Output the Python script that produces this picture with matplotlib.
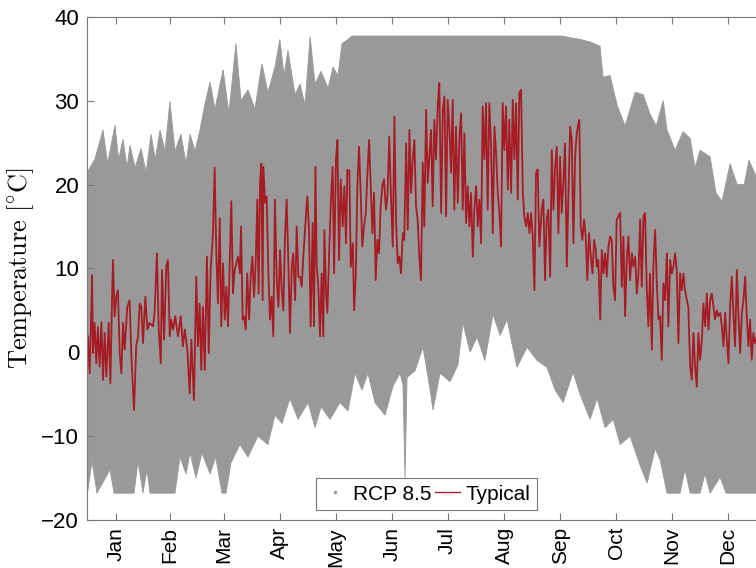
import numpy as np
import matplotlib
matplotlib.use("Agg")
import matplotlib.pyplot as plt
from matplotlib.lines import Line2D

plt.rcParams['font.family'] = ['Liberation Sans', 'DejaVu Sans']
plt.rcParams['mathtext.fontset'] = 'cm'

# month labels, placed at mid-month (day of year)
months = ['Jan', 'Feb', 'Mar', 'Apr', 'May', 'Jun', 'Jul', 'Aug', 'Sep', 'Oct', 'Nov', 'Dec']
month_mid = [15.5, 45, 74.5, 105, 135.5, 166, 196.5, 227.5, 258, 288.5, 319, 349.5]

# RCP 8.5 cloud: upper and lower envelope (day of year, degC)
upper_day = [0, 4, 8.5, 11, 15, 17, 19.4, 21.6, 23.2, 26, 29.2, 32, 34.7, 37, 39.6, 42.3,
             45, 47.8, 51, 53.8, 56, 58.7, 61.4, 64.1, 66.9, 69.6, 74, 77.2, 81, 83.8,
             87.6, 91.4, 95.2, 98.5, 102.3, 105, 107.3, 109.4, 113.3, 116, 118.7, 121.5,
             124.2, 127.5, 131.3, 134, 136.7, 138.9, 141.6, 144.4, 259, 263.4, 268.8,
             274.3, 279.7, 281.4, 285.2, 289, 293.4, 298.9, 303.3, 307, 310.4, 314.2,
             316.3, 320.7, 325, 328.9, 331.6, 334.3, 339.8, 343, 346.3, 350.7, 354.5,
             358.4, 361, 365]
upper_temp = [21.5, 23, 26.5, 22.5, 27.1, 23, 25.4, 22, 24.7, 22, 24.3, 21.5, 26, 23, 26.5, 24,
              29.9, 24, 26, 22.5, 26, 24, 26.5, 29.6, 32.2, 29, 33.7, 28.5, 36.8, 30,
              31.3, 29, 34.4, 31, 34, 37.3, 33, 36, 30.7, 32, 29.5, 37.6,
              32, 33.5, 31.5, 34, 33, 36.8, 37.2, 37.7, 37.7, 37.5, 37.3,
              37, 36.5, 32.8, 33, 29.5, 27, 31, 30.7, 28.4, 27, 30,
              26.5, 24.1, 26.3, 25.5, 22, 24.1, 23.3, 19, 18, 22.5, 20,
              20, 22.9, 20.9]
lower_day = [0, 2.5, 5.2, 12.3, 14.5, 25.4, 27.6, 30.3, 32.5, 34.1, 47.8, 50.5, 53.8, 56,
             59.2, 62.5, 66.9, 70, 73.4, 75.6, 78.3, 83.2, 87.6, 93, 98.5, 102.3, 106.2,
             110.5, 114.9, 120.4, 124.2, 127.5, 132.4, 137.8, 142.2, 146, 149.8, 153.1,
             156.9, 162.4, 166.8, 170.6, 172.2, 173.3, 174.4, 178.8, 183.1, 185.9, 188.6,
             192.4, 197.9, 202.2, 204.9, 208.8, 212.6, 216.9, 221.3, 225.2, 229, 231.7,
             234.4, 239.9, 245.4, 250.8, 255.2, 259.6, 265, 268.8, 274.3, 278.1, 282.5,
             286.9, 290.7, 296.1, 301.6, 305.4, 309.8, 312.5, 316.3, 323.4, 326.1, 328.9,
             334.3, 337, 339.8, 345.2, 348.5, 365]
lower_temp = [-16.8, -13, -16.8, -14, -16.8, -16.8, -13, -16.8, -14, -16.8, -16.8, -12.5, -14.5, -12,
              -15, -12, -14.5, -12.5, -16.8, -16.8, -13.2, -11, -12.5, -10, -11, -7.5, -8.5,
              -5.5, -8, -6, -9, -6.5, -8, -6, -7, -2.5, -4.5, -2.5,
              -6, -7.5, -4, -2.5, -4, -15, -3, -2.2, 0.6, -3, -6.9,
              -2.5, -3.5, -1.5, 3.5, 0, 1.8, -1, 4.5, 2, 3.9, 1,
              -1.8, 0.6, -1, -1.8, -4.5, -6, -2.4, -5, -8, -5.5, -9,
              -8, -11, -10, -13.5, -15.6, -11.5, -12.8, -16.8, -16.8, -14, -16.8,
              -16.8, -14.5, -16.8, -14.9, -16.8, -16.8]

# Typical year (day of year, degC)
typ_day = [0.3, 1.2, 2.1, 2.5, 3.0, 3.9, 4.8, 5.7, 6.6, 7.6, 8.5, 9.4, 10.3, 11.6, 12.5, 13.4,
           13.9, 14.8, 15.7, 16.6, 17.6, 18.5, 19.4, 20.3, 21.7, 23.0, 23.9, 25.4, 26.6, 27.6,
           28.5, 29.4, 30.3, 31.6, 32.7, 33.9, 35.8, 36.7, 37.9, 38.9, 40.0, 40.7, 41.8, 43.0,
           43.9, 44.9, 45.7, 46.7, 47.9, 49.4, 50.9, 52.1, 53.1, 54.5, 55.8, 56.7, 58.1, 59.4,
           60.3, 61.2, 62.1, 63.0, 64.0, 65.2, 66.2, 67.2, 68.5, 69.4, 70.3, 71.2, 72.2, 73.0,
           74.0, 74.9, 75.8, 76.7, 78.5, 79.4, 80.3, 82.2,
           83.2, 83.8, 84.7, 85.4, 86.4, 87.2, 88.2, 89.1, 90.0, 90.9, 91.8, 92.7, 93.4, 94.2,
           94.9, 95.6, 96.0, 96.9, 97.8, 98.7, 99.6, 100.5, 101.4, 102.3, 103.3, 104.2, 105.1,
           106.0, 106.9, 107.8, 108.7, 109.6, 110.5, 111.5, 112.3, 113.3, 114.2, 115.1,
           116.0, 116.9, 117.8, 119.3, 120.0, 120.9, 121.8, 122.9, 123.6, 124.4, 125.1, 126.0,
           126.9, 127.8, 128.7, 129.3, 130.2, 130.9, 132.0, 132.8, 133.8, 134.6, 135.6, 136.4,
           137.3, 138.2, 139.3, 140.2, 141.1, 141.8, 142.9, 143.7, 144.8, 145.5, 146.4, 147.3,
           148.2, 149.1, 150.0, 150.9, 151.9, 152.7, 153.7, 154.6, 155.5, 156.4, 157.3, 158.2,
           159.1, 160.0, 160.9, 161.8, 162.9, 163.7, 164.7, 165.5, 166.6, 167.5, 168.4, 169.3,
           170.2, 171.1, 172.1, 172.9, 173.9, 174.8, 175.7, 176.6, 177.5, 178.4, 179.3, 180.2,
           181.1, 182.0, 183.0, 183.8, 184.8, 185.7, 186.6, 187.5, 188.4, 189.3, 190.2, 191.2,
           192.0, 193.0, 193.9, 194.8, 195.7, 196.6, 197.5, 198.4, 199.3, 200.2, 201.1, 202.1,
           203.0, 203.9, 204.8, 205.7, 206.6, 207.5, 208.4, 209.3, 210.3, 211.1, 212.1, 213.0,
           213.9, 214.8, 215.7, 216.6, 217.5, 218.4, 219.3, 220.3, 221.2, 222.1, 223.0, 223.9,
           224.8, 225.7, 226.6, 227.5, 228.4, 229.4, 230.2, 231.2, 232.1, 233.0, 233.9, 234.8,
           235.7, 236.6, 237.6, 238.4, 239.4, 240.3, 241.2, 242.1, 243.0, 243.9, 244.8, 245.7,
           246.6, 247.9, 248.8, 249.7, 250.6, 251.5, 252.5, 253.4, 254.3, 255.2, 256.1, 257.0,
           257.9, 258.8, 259.7, 260.6, 261.6, 262.4, 263.4, 264.3, 265.2, 266.1, 267.0, 267.9,
           268.4, 269.2, 270.1, 271.0, 271.9, 272.8, 273.7, 274.7, 275.6, 276.5, 277.4, 277.9,
           278.8, 279.8, 280.7, 281.6, 282.5, 283.4, 284.3, 285.2, 286.1, 287.0, 287.9, 288.8,
           289.7, 290.7, 291.6, 292.5, 293.4, 294.3, 295.2, 296.1, 297.1, 297.9, 298.9, 299.8,
           300.7, 301.6, 302.5, 303.4, 304.3, 305.2, 306.1, 307.0, 308.0, 308.8, 309.8, 310.7,
           311.6, 312.5, 313.4, 314.3, 315.2, 316.2, 317.0, 318.0, 318.9, 319.8, 320.7, 321.6,
           322.5, 323.4, 324.3, 325.2, 326.1, 327.1, 327.9, 328.9, 329.8, 330.7, 331.6, 332.5,
           333.4, 334.3, 335.3, 336.1, 337.1, 338.0, 338.9, 339.8, 340.7, 341.6, 342.5, 343.4,
           344.3, 345.3, 346.2, 347.1, 348.0, 348.9, 349.8, 350.7, 351.6, 352.5, 353.4, 354.4,
           355.2, 356.2, 357.1, 358.0, 358.9, 359.8, 360.7, 361.6, 362.5, 363.4, 364.3, 364.9]
typ_temp = [1.9, -2.5, 5, 9.2, -0.1, 3.5, -1.3, 3, -1.7, 3.6, -3.3, 2.3, -2.9, 3.5, -3.7, 6.2,
            11, 4.3, 6.6, 7.4, -0.1, -2.5, 3.5, 0.3, 5.4, 6.2, -0.1, -6.9, 0.7, 1.9,
            5.8, 5.4, 1.1, 6.6, 2.7, 3.5, 3.1, 5, 11.8, 2.7, -1.3, 9.8, 1.5, 10.2,
            11, 1.9, 3.9, 2.7, 4.3, 1.9, 4.3, 0.7, 2.7, 0.3, -4.9, 1.5, -5.7, 9,
            0.7, 5.8, -2.1, 5.4, -2.1, 11.4, -0.1, 9.8, 14.2, 22, 12, 5.8, 16, 3.1,
            10.6, 3.9, 7.8, 3.1, 18, 7, 9.8, 11.4,
            9.4, 15, 3.9, 4.3, 2.7, 9.4, 3.9, 9, 11.4, 6.6, 10.6, 18.2, 7, 20.2,
            22.5, 6.2, 22.1, 17.8, 18.6, 9.8, 3.9, 6.6, 1.9, 18.2, 8.6, 5.4, 12.2,
            7.4, 5, 13.8, 18.2, 11, 2.3, 10.2, 11.8, 6.2, 15, 9,
            9, 7.8, 11.4, 16.6, 18.6, 14.6, 3.1, 15.4, 3.1, 22.1, 10.2, 7.8,
            1.9, 9.4, 1.9, 14.6, 7, 4.7, 12.6, 17.8, 22.1, 9.4, 23, 25.3,
            11, 20.6, 15, 19.8, 13, 21.7, 21.7, 10.2, 13, 5, 9, 19.8,
            24.5, 19, 12.6, 15, 16.6, 21, 25.3, 19.8, 14.2, 19, 8.6, 13.4,
            11.8, 17.4, 19.8, 20.6, 17, 18.6, 25.7, 19.4, 12.6, 28.1, 15.8, 10.6,
            11.4, 9.4, 14.2, 13.4, 24.9, 14.6, 26.5, 19, 23, 25.3, 17.4, 15.8,
            11.4, 8.6, 22.6, 15, 28.9, 20.2, 23.3, 26.5, 17.4, 27.7, 23, 29.7,
            32.1, 16.6, 28.9, 30.5, 16.2, 30.1, 26.9, 21.4, 30.1, 17, 26.9, 17.8,
            25.7, 28.5, 17, 26.1, 15.4, 19.8, 15, 19, 11.4, 17, 19.8, 15,
            18.2, 13, 29.3, 23, 29.7, 17, 29.7, 24.5, 14.2, 26.9, 23.7, 19,
            16.6, 12.6, 29.7, 24.1, 29.3, 19.4, 27.7, 19, 30.1, 23, 29.7, 18.2,
            30.9, 31.3, 19, 16.2, 15, 16.6, 14.2, 16.6, 13.8, 7.4, 21.4, 21.8,
            12.6, 17, 18.2, 8.6, 15.8, 17, 9, 24.1, 17, 22.1, 24.5, 14.2,
            23.3, 16.6, 20.2, 24.9, 10.2, 18.2, 26.9, 25.3, 13, 23.3, 26.1, 27.3,
            27.7, 15, 13.4, 15.8, 13.8, 8.6, 14.2, 11.4, 9.4, 13.4, 12.2, 10.2,
            11, 3.9, 12.2, 9.4, 11.8, 9, 12.6, 13.8, 13.4, 7.8, 6.2, 15.8,
            16.2, 16.6, 7.8, 13.8, 4.3, 11, 13.8, 8.6, 11.8, 10.2, 11.4, 7,
            9.4, 15.8, 7.8, 16.2, 16.6, 7.8, 3.1, 9.4, 0.3, 10.2, 14.6, 8.2,
            3.9, 4.3, -0.9, 8.2, 6.2, 11.8, 3.1, 11, 9.4, 10.2, 11.8, 9.8,
            1.1, 9.4, 7.4, 9.4, 7.4, 6.2, 5.4, -1.7, -3.3, 2.3, -1.7, -4.1,
            2.3, -0.9, 1.5, 5.8, 3.1, 7, 2.7, 6.2, 7, 5.4, 3.9, 5,
            4.3, 4.7, 3.1, 0.7, 4.7, 1.5, -1.3, 5.4, 9, 4.7, 0.7, 9.8,
            4.7, -0.1, 4.7, 6.2, 9, 4.3, 0.7, 3.9, -0.9, 2.3, 1.1, 1.5]

gray = '#999999'
red = '#a51c24'

fig = plt.figure(figsize=(7.56, 5.68), dpi=100)
ax = fig.add_axes([0.1157, 0.0845, 0.8847, 0.886])

cloud_x = np.concatenate([upper_day, lower_day[::-1]])
cloud_y = np.concatenate([upper_temp, lower_temp[::-1]])
ax.fill(cloud_x, cloud_y, color=gray, linewidth=0.6, edgecolor=gray, zorder=1)
ax.plot(typ_day, typ_temp, color=red, linewidth=1.3, zorder=2)

ax.set_xlim(0, 365)
ax.set_ylim(-20, 40)
ax.set_yticks([-20, -10, 0, 10, 20, 30, 40])
ax.set_xticks(month_mid)
ax.set_xticklabels(months, rotation=90)
ax.tick_params(axis='both', direction='in', length=5, width=0.8, color='#777777',
               labelsize=15, top=True, right=False, pad=5)
ax.tick_params(axis='y', labelsize=16, pad=6)
for side in ['left', 'bottom', 'top']:
    ax.spines[side].set_color('#777777')
    ax.spines[side].set_linewidth(0.8)
ax.spines['right'].set_visible(False)

ax.set_ylabel(r'$\mathrm{Temperature\ [^{\circ}C]}$', fontsize=19, labelpad=4)

handles = [Line2D([], [], marker='.', markersize=3, linestyle='none', color=gray),
           Line2D([], [], color=red, linewidth=1.0)]
leg = ax.legend(handles, ['RCP 8.5', 'Typical'], loc='lower center', ncol=2,
                bbox_to_anchor=(0.507, 0.02), borderaxespad=0, fontsize=15,
                handlelength=1.2, handletextpad=0.25, columnspacing=0.2,
                fancybox=False, framealpha=1, borderpad=0.3)
leg.get_frame().set_edgecolor('#777777')
leg.get_frame().set_linewidth(0.8)

fig.savefig('out.png', dpi=100)
